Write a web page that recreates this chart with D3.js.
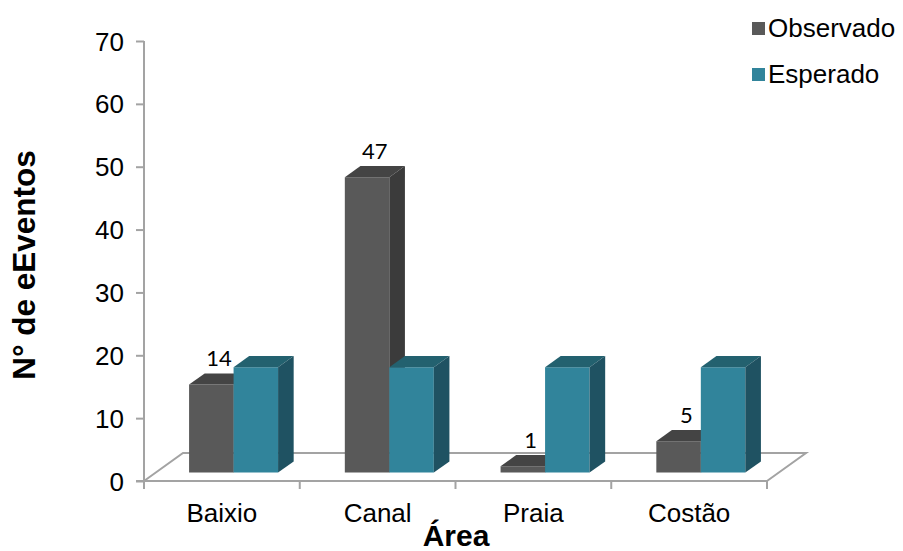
<!DOCTYPE html>
<html>
<head>
<meta charset="utf-8">
<script src="https://cdn.jsdelivr.net/npm/d3@7"></script>
<style>
  html, body { margin: 0; padding: 0; background: #fff; }
  svg { display: block; }
</style>
</head>
<body>
<svg id="chart" width="903" height="551"></svg>
<script>
// Data
const categories = ["Baixio", "Canal", "Praia", "Costão"];
const series = ["Observado", "Esperado"];
const observado = [14, 47, 1, 5];
const esperado = [16.75, 16.75, 16.75, 16.75];
const yTicks = [0, 10, 20, 30, 40, 50, 60, 70];

const values = { Observado: observado, Esperado: esperado };
const showLabel = { Observado: true, Esperado: false };

// Styling
const colors = {
  Observado: { front: "#595959", top: "#444444", side: "#3b3b3b" },
  Esperado:  { front: "#31849b", top: "#23616f", side: "#1f5262" }
};
const axisColor = "#a3a3a3";
const font = "'Liberation Sans', Arial, sans-serif";

const svg = d3.select("#chart");

// Layout of the front plane and floor depth (oblique projection)
const plotLeft = 144, plotRight = 767, plotBottom = 481, plotTop = 41;
const depthDX = 39, depthDY = -28;      // full floor depth offset
const barD0 = 0.3, barD1 = 0.7;         // bar depth extent (fraction of floor depth)

const y = d3.scaleLinear().domain([0, 70]).range([plotBottom, plotTop]);
const x0 = d3.scaleBand().domain(categories).range([plotLeft, plotRight]).padding(0);
const x1 = d3.scaleBand().domain(series).range([0, x0.bandwidth()])
  .paddingInner(0).paddingOuter(0.75);

// projection of a point (front-plane x, value, depth fraction)
const P = (px, v, d) => [px + d * depthDX, y(v) + d * depthDY];
const poly = pts => "M" + pts.map(p => p.join(",")).join("L") + "Z";

// Floor
const floor = svg.append("g").attr("fill", "none")
  .attr("stroke", axisColor).attr("stroke-width", 2);
floor.append("path").attr("d",
  "M" + P(plotLeft, 0, 0) + "L" + P(plotLeft, 0, 1) + "L" + P(plotRight, 0, 1) + "L" + P(plotRight, 0, 0));

// Value axis
const yAxisG = svg.append("g").attr("transform", `translate(${plotLeft},0)`)
  .call(d3.axisLeft(y).tickValues(yTicks).tickSize(8).tickPadding(12).tickSizeOuter(0));
yAxisG.select(".domain").attr("stroke", axisColor).attr("stroke-width", 2)
  .attr("d", `M0,${plotTop}V${plotBottom + 8}`);
yAxisG.selectAll(".tick line").attr("stroke", axisColor).attr("stroke-width", 2);
yAxisG.selectAll(".tick text").attr("font-family", font).attr("font-size", 26)
  .attr("fill", "#000").attr("dy", "0.35em");

// Category axis
const xAxisG = svg.append("g").attr("transform", `translate(0,${plotBottom})`)
  .call(d3.axisBottom(x0).tickSize(0).tickPadding(23).tickSizeOuter(0));
xAxisG.select(".domain").attr("stroke", axisColor).attr("stroke-width", 2)
  .attr("d", `M${plotLeft - 8},0H${plotRight}`);
xAxisG.selectAll(".tick text").attr("font-family", font).attr("font-size", 26).attr("fill", "#000");
// category separators
svg.append("g").selectAll("line")
  .data(categories.map(c => x0(c) + x0.bandwidth()))
  .join("line")
  .attr("x1", d => d).attr("x2", d => d)
  .attr("y1", plotBottom).attr("y2", plotBottom + 8)
  .attr("stroke", axisColor).attr("stroke-width", 2);

// Bars
const bars = svg.append("g");
categories.forEach((cat, i) => {
  series.forEach(s => {
    const v = values[s][i];
    const xa = x0(cat) + x1(s), xb = xa + x1.bandwidth();
    const c = colors[s];
    const g = bars.append("g");
    // front face
    g.append("path").attr("fill", c.front)
      .attr("d", poly([P(xa, 0, barD0), P(xb, 0, barD0), P(xb, v, barD0), P(xa, v, barD0)]));
    // top face
    g.append("path").attr("fill", c.top)
      .attr("d", poly([P(xa, v, barD0), P(xb, v, barD0), P(xb, v, barD1), P(xa, v, barD1)]));
    // side face
    g.append("path").attr("fill", c.side)
      .attr("d", poly([P(xb, 0, barD0), P(xb, 0, barD1), P(xb, v, barD1), P(xb, v, barD0)]));
    if (showLabel[s]) {
      const [lx, ly] = P((xa + xb) / 2, v, 0.5);
      svg.append("text").attr("x", lx).attr("y", ly - 13)
        .attr("text-anchor", "middle").attr("font-family", "Lato, 'Open Sans', sans-serif")
        .attr("font-size", 22).attr("fill", "#000").text(v);
    }
  });
});

// Axis titles
svg.append("text").attr("x", 456).attr("y", 546).attr("text-anchor", "middle")
  .attr("font-family", font).attr("font-weight", "bold").attr("font-size", 30)
  .text("Área");
svg.append("text").attr("transform", "translate(35,265) rotate(-90)")
  .attr("text-anchor", "middle")
  .attr("font-family", font).attr("font-weight", "bold").attr("font-size", 31.5)
  .text("N° de eEventos");

// Legend
const legend = svg.append("g");
series.forEach((s, i) => {
  const ly = 22 + i * 46;
  legend.append("rect").attr("x", 752).attr("y", ly).attr("width", 13).attr("height", 13)
    .attr("fill", colors[s].front);
  legend.append("text").attr("x", 768).attr("y", ly + 15)
    .attr("font-family", font).attr("font-size", 26).attr("fill", "#000").text(s);
});
</script>
</body>
</html>
